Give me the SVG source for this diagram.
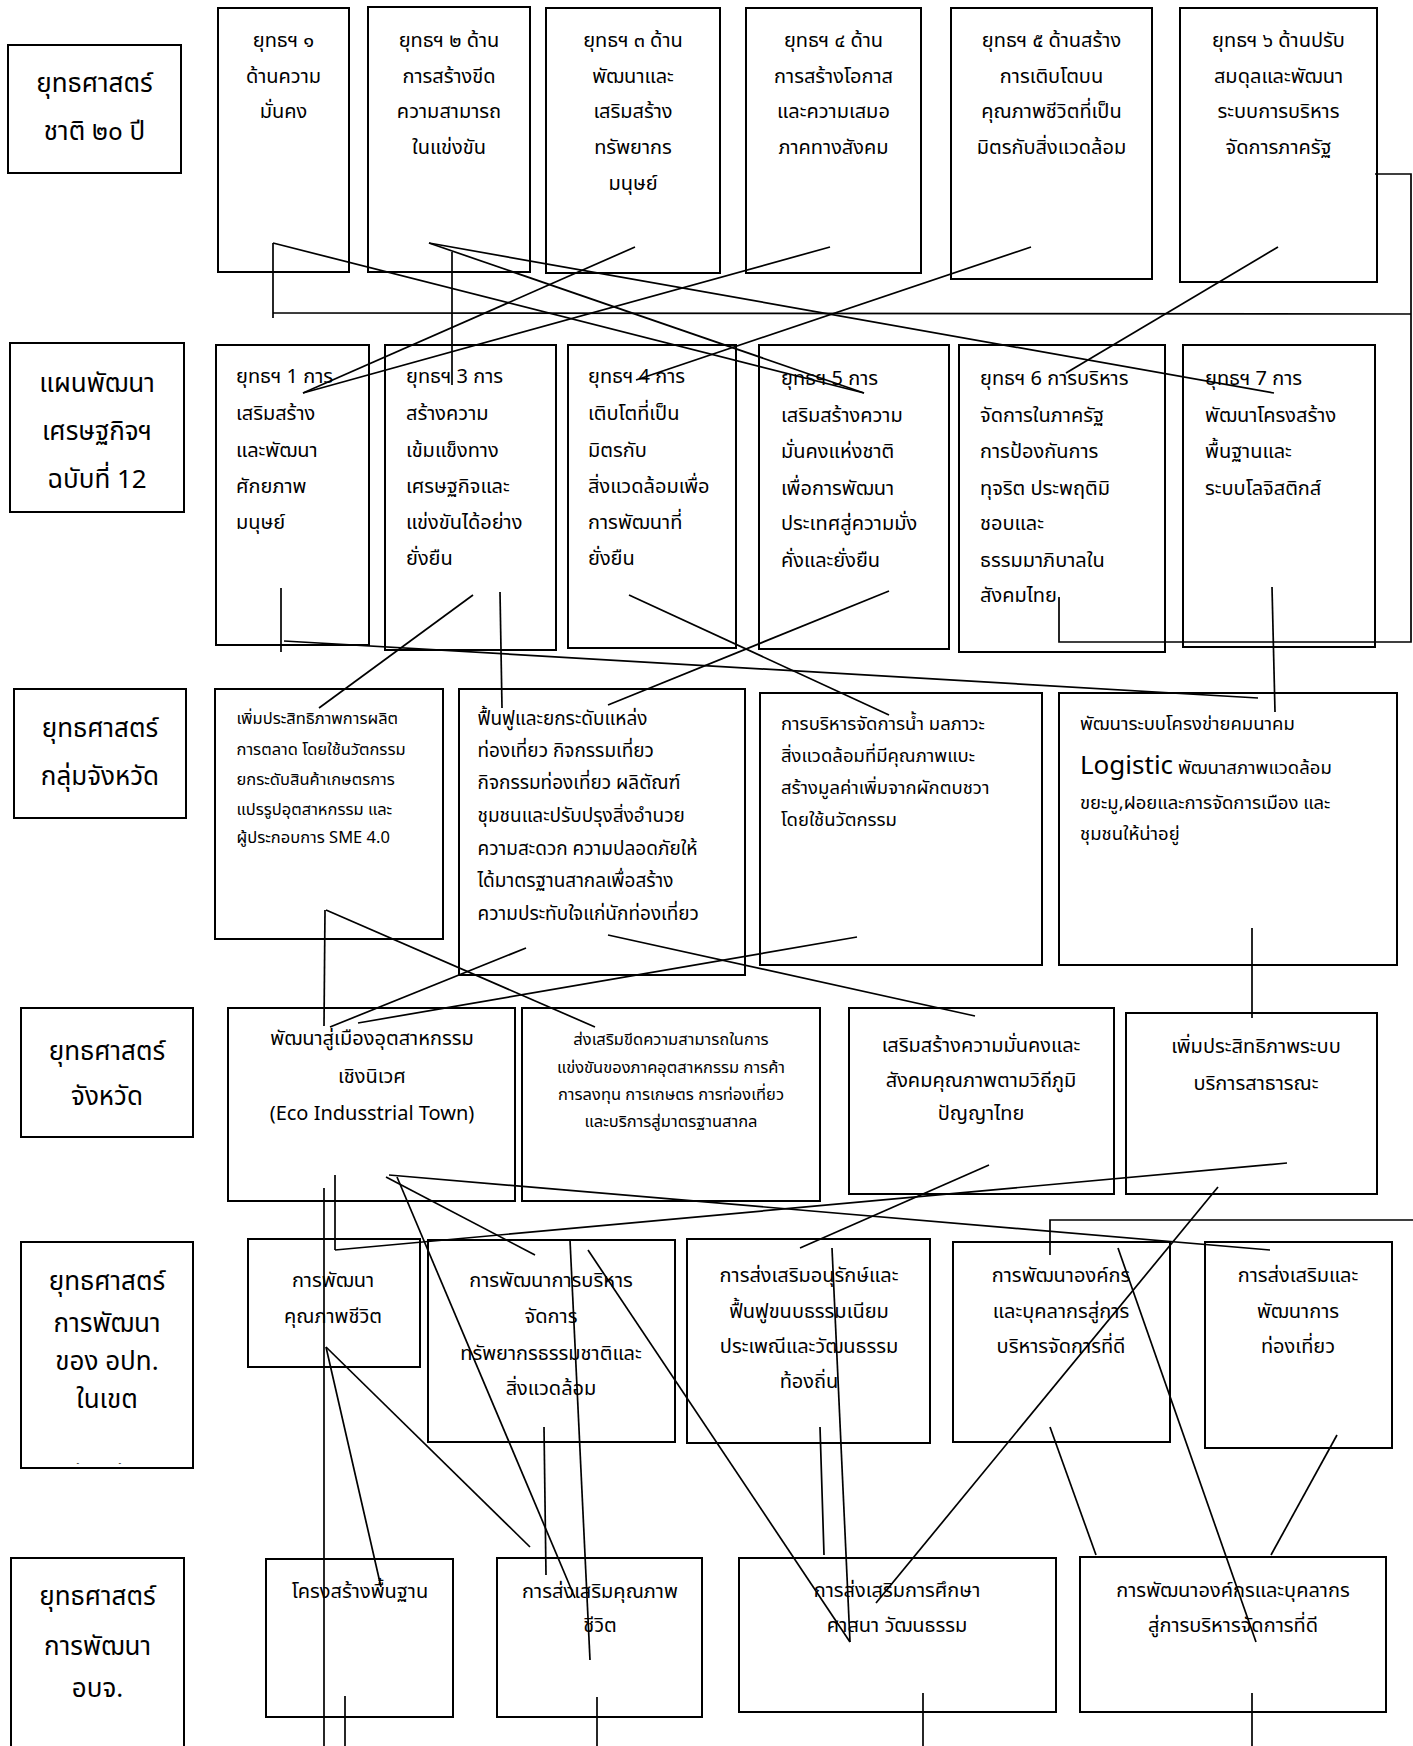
<svg xmlns="http://www.w3.org/2000/svg" width="1413" height="1746" viewBox="0 0 1413 1746">
<style>
.box{fill:#fff;stroke:#000;stroke-width:2}
.t{font-family:"Noto Sans Thai","Noto Sans Thai UI","Noto Sans","DejaVu Sans",sans-serif;fill:#000;font-size:20px}
.c{text-anchor:middle}
.lb{font-size:26px}
.s16{font-size:16.5px}
.s18{font-size:18.5px}
.s19{font-size:19px}
.cn line,.cn polyline{stroke:#000;stroke-width:1.7;fill:none}
</style>
<defs>
<clipPath id="clip5"><rect x="21" y="1242" width="172" height="222"/></clipPath>
</defs>
<rect width="1413" height="1746" fill="#fff"/>

<!-- labels -->
<g id="label1"><rect class="box" x="8" y="45" width="173" height="128"/>
<text class="t c lb" x="94.5" y="92">ยุทธศาสตร์</text><text class="t c lb" x="94.5" y="140">ชาติ ๒๐ ปี</text></g>
<g id="label2"><rect class="box" x="10" y="343" width="174" height="169"/>
<text class="t c lb" x="97" y="392">แผนพัฒนา</text><text class="t c lb" x="97" y="440">เศรษฐกิจฯ</text><text class="t c lb" x="97" y="488">ฉบับที่ 12</text></g>
<g id="label3"><rect class="box" x="14" y="689" width="172" height="129"/>
<text class="t c lb" x="100" y="737">ยุทธศาสตร์</text><text class="t c lb" x="100" y="785">กลุ่มจังหวัด</text></g>
<g id="label4"><rect class="box" x="21" y="1008" width="172" height="129"/>
<text class="t c lb" x="107" y="1060">ยุทธศาสตร์</text><text class="t c lb" x="107" y="1105">จังหวัด</text></g>
<g id="label5"><rect class="box" x="21" y="1242" width="172" height="226"/>
<text class="t c lb" x="107" y="1290">ยุทธศาสตร์</text><text class="t c lb" x="107" y="1332">การพัฒนา</text><text class="t c lb" x="107" y="1370">ของ อปท.</text><text class="t c lb" x="107" y="1408">ในเขต</text>
<text class="t c lb" x="107" y="1484" clip-path="url(#clip5)">จังหวัด</text></g>
<g id="label6"><rect class="box" x="11" y="1558" width="173" height="210"/>
<text class="t c lb" x="97.5" y="1605">ยุทธศาสตร์</text><text class="t c lb" x="97.5" y="1655">การพัฒนา</text><text class="t c lb" x="97.5" y="1697">อบจ.</text></g>

<!-- row 1 -->
<g id="n1-1"><rect class="box" x="218" y="8" width="131" height="264"/>
<text class="t c" x="283.5" y="47">ยุทธฯ ๑</text><text class="t c" x="283.5" y="83">ด้านความ</text><text class="t c" x="283.5" y="118">มั่นคง</text></g>
<g id="n1-2"><rect class="box" x="368" y="7" width="162" height="265"/>
<text class="t c" x="449" y="47">ยุทธฯ ๒ ด้าน</text><text class="t c" x="449" y="83">การสร้างขีด</text><text class="t c" x="449" y="118">ความสามารถ</text><text class="t c" x="449" y="154">ในแข่งขัน</text></g>
<g id="n1-3"><rect class="box" x="546" y="8" width="174" height="265"/>
<text class="t c" x="633" y="47">ยุทธฯ ๓ ด้าน</text><text class="t c" x="633" y="83">พัฒนาและ</text><text class="t c" x="633" y="118">เสริมสร้าง</text><text class="t c" x="633" y="154">ทรัพยากร</text><text class="t c" x="633" y="190">มนุษย์</text></g>
<g id="n1-4"><rect class="box" x="746" y="8" width="175" height="265"/>
<text class="t c" x="833.5" y="47">ยุทธฯ ๔ ด้าน</text><text class="t c" x="833.5" y="83">การสร้างโอกาส</text><text class="t c" x="833.5" y="118">และความเสมอ</text><text class="t c" x="833.5" y="154">ภาคทางสังคม</text></g>
<g id="n1-5"><rect class="box" x="951" y="8" width="201" height="271"/>
<text class="t c" x="1051.5" y="47">ยุทธฯ ๕ ด้านสร้าง</text><text class="t c" x="1051.5" y="83">การเติบโตบน</text><text class="t c" x="1051.5" y="118">คุณภาพชีวิตที่เป็น</text><text class="t c" x="1051.5" y="154">มิตรกับสิ่งแวดล้อม</text></g>
<g id="n1-6"><rect class="box" x="1180" y="8" width="197" height="274"/>
<text class="t c" x="1278.5" y="47">ยุทธฯ ๖ ด้านปรับ</text><text class="t c" x="1278.5" y="83">สมดุลและพัฒนา</text><text class="t c" x="1278.5" y="118">ระบบการบริหาร</text><text class="t c" x="1278.5" y="154">จัดการภาครัฐ</text></g>

<!-- row 2 -->
<g id="n2-1"><rect class="box" x="216" y="345" width="153" height="300"/>
<text class="t" x="236" y="383">ยุทธฯ 1 การ</text><text class="t" x="236" y="420">เสริมสร้าง</text><text class="t" x="236" y="457">และพัฒนา</text><text class="t" x="236" y="493">ศักยภาพ</text><text class="t" x="236" y="529">มนุษย์</text></g>
<g id="n2-2"><rect class="box" x="385" y="345" width="171" height="305"/>
<text class="t" x="406" y="383">ยุทธฯ 3 การ</text><text class="t" x="406" y="420">สร้างความ</text><text class="t" x="406" y="457">เข้มแข็งทาง</text><text class="t" x="406" y="493">เศรษฐกิจและ</text><text class="t" x="406" y="529">แข่งขันได้อย่าง</text><text class="t" x="406" y="565">ยั่งยืน</text></g>
<g id="n2-3"><rect class="box" x="568" y="345" width="168" height="303"/>
<text class="t" x="588" y="383">ยุทธฯ 4 การ</text><text class="t" x="588" y="420">เติบโตที่เป็น</text><text class="t" x="588" y="457">มิตรกับ</text><text class="t" x="588" y="493">สิ่งแวดล้อมเพื่อ</text><text class="t" x="588" y="529">การพัฒนาที่</text><text class="t" x="588" y="565">ยั่งยืน</text></g>
<g id="n2-4"><rect class="box" x="759" y="345" width="190" height="304"/>
<text class="t" x="781" y="385">ยุทธฯ 5 การ</text><text class="t" x="781" y="422">เสริมสร้างความ</text><text class="t" x="781" y="458">มั่นคงแห่งชาติ</text><text class="t" x="781" y="495">เพื่อการพัฒนา</text><text class="t" x="781" y="530">ประเทศสู่ความมั่ง</text><text class="t" x="781" y="567">คั่งและยั่งยืน</text></g>
<g id="n2-5"><rect class="box" x="959" y="345" width="206" height="307"/>
<text class="t" x="980" y="385">ยุทธฯ 6 การบริหาร</text><text class="t" x="980" y="422">จัดการในภาครัฐ</text><text class="t" x="980" y="458">การป้องกันการ</text><text class="t" x="980" y="495">ทุจริต ประพฤติมิ</text><text class="t" x="980" y="530">ชอบและ</text><text class="t" x="980" y="567">ธรรมมาภิบาลใน</text><text class="t" x="980" y="602">สังคมไทย</text></g>
<g id="n2-6"><rect class="box" x="1183" y="345" width="192" height="302"/>
<text class="t" x="1205" y="385">ยุทธฯ 7 การ</text><text class="t" x="1205" y="422">พัฒนาโครงสร้าง</text><text class="t" x="1205" y="458">พื้นฐานและ</text><text class="t" x="1205" y="495">ระบบโลจิสติกส์</text></g>

<!-- row 3 -->
<g id="n3-1"><rect class="box" x="215" y="689" width="228" height="250"/>
<text class="t s16" x="236.5" y="724">เพิ่มประสิทธิภาพการผลิต</text><text class="t s16" x="236.5" y="755">การตลาด โดยใช้นวัตกรรม</text><text class="t s16" x="236.5" y="785">ยกระดับสินค้าเกษตรการ</text><text class="t s16" x="236.5" y="815">แปรรูปอุตสาหกรรม และ</text><text class="t s16" x="236.5" y="843">ผู้ประกอบการ SME 4.0</text></g>
<g id="n3-2"><rect class="box" x="459" y="689" width="286" height="286"/>
<text class="t s19" x="477.5" y="725">ฟื้นฟูและยกระดับแหล่ง</text><text class="t s19" x="477.5" y="757">ท่องเที่ยว กิจกรรมเที่ยว</text><text class="t s19" x="477.5" y="789">กิจกรรมท่องเที่ยว ผลิตัณฑ์</text><text class="t s19" x="477.5" y="822">ชุมชนและปรับปรุงสิ่งอำนวย</text><text class="t s19" x="477.5" y="855">ความสะดวก ความปลอดภัยให้</text><text class="t s19" x="477.5" y="887">ได้มาตรฐานสากลเพื่อสร้าง</text><text class="t s19" x="477.5" y="920">ความประทับใจแก่นักท่องเที่ยว</text></g>
<g id="n3-3"><rect class="box" x="760" y="693" width="282" height="272"/>
<text class="t s18" x="781" y="730">การบริหารจัดการน้ำ มลภาวะ</text><text class="t s18" x="781" y="762">สิ่งแวดล้อมที่มีคุณภาพแบะ</text><text class="t s18" x="781" y="794">สร้างมูลค่าเพิ่มจากผักตบชวา</text><text class="t s18" x="781" y="826">โดยใช้นวัตกรรม</text></g>
<g id="n3-4"><rect class="box" x="1059" y="693" width="338" height="272"/>
<text class="t s18" x="1080" y="730">พัฒนาระบบโครงข่ายคมนาคม</text><text class="t s18" x="1080" y="774"><tspan font-size="26px">Logistic</tspan> พัฒนาสภาพแวดล้อม</text><text class="t s18" x="1080" y="809">ขยะมู,ฝอยและการจัดการเมือง และ</text><text class="t s18" x="1080" y="840">ชุมชนให้น่าอยู่</text></g>

<!-- row 4 -->
<g id="n4-1"><rect class="box" x="228" y="1008" width="287" height="193"/>
<text class="t c" x="372" y="1045">พัฒนาสู่เมืองอุตสาหกรรม</text><text class="t c" x="372" y="1083">เชิงนิเวศ</text><text class="t c" x="372" y="1120">(Eco Indusstrial Town)</text></g>
<g id="n4-2"><rect class="box" x="522" y="1008" width="298" height="193"/>
<text class="t c s16" x="671" y="1045">ส่งเสริมขีดความสามารถในการ</text><text class="t c s16" x="671" y="1073">แข่งขันของภาคอุตสาหกรรม การค้า</text><text class="t c s16" x="671" y="1100">การลงทุน การเกษตร การท่องเที่ยว</text><text class="t c s16" x="671" y="1127">และบริการสู่มาตรฐานสากล</text></g>
<g id="n4-3"><rect class="box" x="849" y="1008" width="265" height="186"/>
<text class="t c" x="981" y="1052">เสริมสร้างความมั่นคงและ</text><text class="t c" x="981" y="1087">สังคมคุณภาพตามวิถีภูมิ</text><text class="t c" x="981" y="1120">ปัญญาไทย</text></g>
<g id="n4-4"><rect class="box" x="1126" y="1013" width="251" height="181"/>
<text class="t c" x="1256" y="1053">เพิ่มประสิทธิภาพระบบ</text><text class="t c" x="1256" y="1090">บริการสาธารณะ</text></g>

<!-- row 5 -->
<g id="n5-1"><rect class="box" x="248" y="1239" width="172" height="128"/>
<text class="t c" x="333" y="1287">การพัฒนา</text><text class="t c" x="333" y="1323">คุณภาพชีวิต</text></g>
<g id="n5-2"><rect class="box" x="428" y="1240" width="247" height="202"/>
<text class="t c" x="551" y="1287">การพัฒนาการบริหาร</text><text class="t c" x="551" y="1323">จัดการ</text><text class="t c" x="551" y="1360">ทรัพยากรธรรมชาติและ</text><text class="t c" x="551" y="1395">สิ่งแวดล้อม</text></g>
<g id="n5-3"><rect class="box" x="687" y="1239" width="243" height="204"/>
<text class="t c" x="809" y="1282">การส่งเสริมอนุรักษ์และ</text><text class="t c" x="809" y="1318">ฟื้นฟูขนบธรรมเนียม</text><text class="t c" x="809" y="1353">ประเพณีและวัฒนธรรม</text><text class="t c" x="809" y="1388">ท้องถิ่น</text></g>
<g id="n5-4"><rect class="box" x="953" y="1242" width="217" height="200"/>
<text class="t c" x="1061" y="1282">การพัฒนาองค์กร</text><text class="t c" x="1061" y="1318">และบุคลากรสู่การ</text><text class="t c" x="1061" y="1353">บริหารจัดการที่ดี</text></g>
<g id="n5-5"><rect class="box" x="1205" y="1242" width="187" height="206"/>
<text class="t c" x="1298" y="1282">การส่งเสริมและ</text><text class="t c" x="1298" y="1318">พัฒนาการ</text><text class="t c" x="1298" y="1353">ท่องเที่ยว</text></g>

<!-- row 6 -->
<g id="n6-1"><rect class="box" x="266" y="1559" width="187" height="158"/>
<text class="t c" x="360" y="1598">โครงสร้างพื้นฐาน</text></g>
<g id="n6-2"><rect class="box" x="497" y="1558" width="205" height="159"/>
<text class="t c" x="600" y="1598">การส่งเสริมคุณภาพ</text><text class="t c" x="600" y="1632">ชีวิต</text></g>
<g id="n6-3"><rect class="box" x="739" y="1558" width="317" height="154"/>
<text class="t c" x="897" y="1597">การส่งเสริมการศึกษา</text><text class="t c" x="897" y="1632">ศาสนา วัฒนธรรม</text></g>
<g id="n6-4"><rect class="box" x="1080" y="1557" width="306" height="155"/>
<text class="t c" x="1233" y="1597">การพัฒนาองค์กรและบุคลากร</text><text class="t c" x="1233" y="1632">สู่การบริหารจัดการที่ดี</text></g>

<!-- connectors -->
<g id="connectors" class="cn">
<polyline points="1375,174 1411,174 1411,642 1059,642 1059,597"/>
<line x1="273" y1="243" x2="273" y2="318"/>
<line x1="273" y1="313" x2="1411" y2="314"/>
<line x1="273" y1="243" x2="864" y2="393"/>
<line x1="429" y1="243" x2="864" y2="393"/>
<line x1="429" y1="243" x2="1274" y2="393"/>
<line x1="635" y1="247" x2="303" y2="393"/>
<line x1="830" y1="247" x2="303" y2="393"/>
<line x1="1031" y1="247" x2="636" y2="380"/>
<line x1="1278" y1="247" x2="1066" y2="373"/>
<line x1="452" y1="252" x2="452" y2="385"/>
<line x1="281" y1="588" x2="281" y2="652"/>
<line x1="284" y1="641" x2="1258" y2="698"/>
<line x1="473" y1="595" x2="319" y2="708"/>
<line x1="500" y1="592" x2="502" y2="708"/>
<line x1="629" y1="595" x2="889" y2="715"/>
<line x1="889" y1="591" x2="608" y2="705"/>
<line x1="1272" y1="587" x2="1275" y2="712"/>
<line x1="325" y1="910" x2="324" y2="1026"/>
<line x1="326" y1="910" x2="595" y2="1027"/>
<line x1="526" y1="948" x2="330" y2="1027"/>
<line x1="857" y1="937" x2="358" y2="1023"/>
<line x1="608" y1="935" x2="975" y2="1016"/>
<line x1="1252" y1="928" x2="1252" y2="1018"/>
<line x1="335" y1="1175" x2="335" y2="1250"/>
<line x1="335" y1="1250" x2="1287" y2="1163"/>
<line x1="324" y1="1188" x2="324" y2="1746"/>
<line x1="389" y1="1175" x2="1270" y2="1250"/>
<line x1="386" y1="1177" x2="535" y2="1255"/>
<line x1="397" y1="1177" x2="575" y2="1598"/>
<line x1="989" y1="1165" x2="800" y2="1248"/>
<line x1="1218" y1="1187" x2="876" y2="1603"/>
<polyline points="1413,1220 1050,1220 1050,1255"/>
<line x1="326" y1="1347" x2="381" y2="1587"/>
<line x1="326" y1="1347" x2="530" y2="1547"/>
<line x1="544" y1="1427" x2="546" y2="1575"/>
<line x1="570" y1="1240" x2="590" y2="1660"/>
<line x1="588" y1="1250" x2="850" y2="1642"/>
<line x1="820" y1="1427" x2="824" y2="1555"/>
<line x1="832" y1="1248" x2="850" y2="1642"/>
<line x1="1050" y1="1427" x2="1096" y2="1555"/>
<line x1="1118" y1="1248" x2="1256" y2="1642"/>
<line x1="1337" y1="1435" x2="1271" y2="1555"/>
<line x1="345" y1="1696" x2="345" y2="1746"/>
<line x1="597" y1="1697" x2="597" y2="1746"/>
<line x1="923" y1="1693" x2="923" y2="1746"/>
<line x1="1252" y1="1693" x2="1252" y2="1746"/>
</g>
</svg>
